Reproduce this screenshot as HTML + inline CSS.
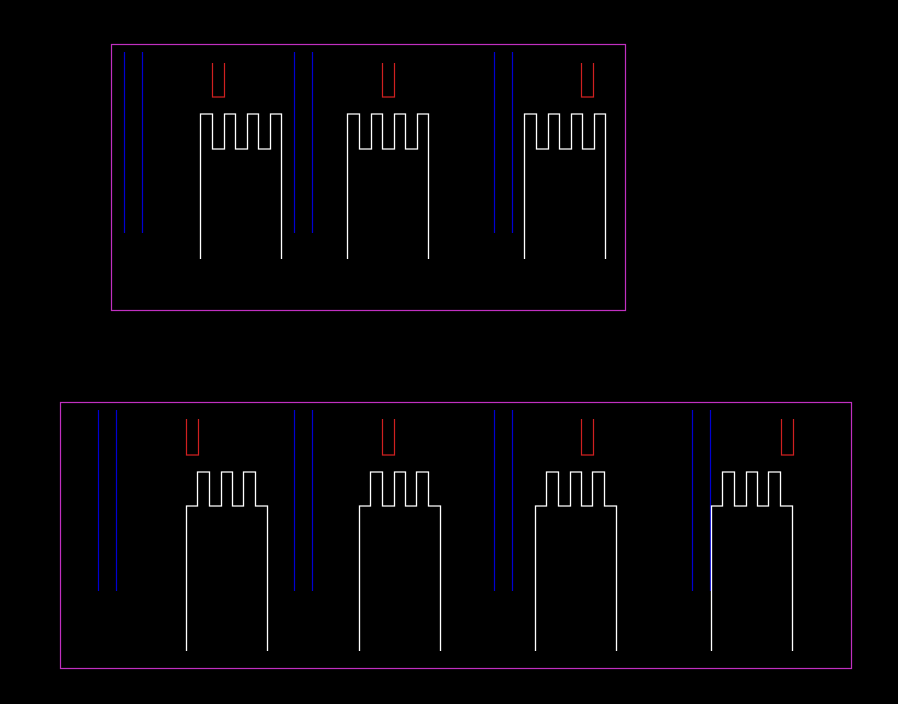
<!DOCTYPE html>
<html><head><meta charset="utf-8"><style>
html,body{margin:0;padding:0;background:#000;width:898px;height:704px;overflow:hidden}
svg{display:block}
</style></head><body>
<svg width="898" height="704" viewBox="0 0 898 704" xmlns="http://www.w3.org/2000/svg">
<defs>
<g id="tblue"><line x1="0" y1="52" x2="0" y2="233" stroke="#0000d0" stroke-width="1.2"/><line x1="18" y1="52" x2="18" y2="233" stroke="#0000d0" stroke-width="1.2"/></g>
<g id="bblue"><line x1="0" y1="410" x2="0" y2="591" stroke="#0000d0" stroke-width="1.2"/><line x1="18" y1="410" x2="18" y2="591" stroke="#0000d0" stroke-width="1.2"/></g>
<path id="tred" d="M0,63 V97 H12 V63" fill="none" stroke="#d02020" stroke-width="1.2"/>
<path id="bred" d="M0,419 V455 H12 V419" fill="none" stroke="#d02020" stroke-width="1.2"/>
<path id="tcomb" d="M0,259 V114 H12 V149 H24 V114 H35 V149 H47 V114 H58 V149 H70 V114 H81 V259" fill="none" stroke="#fff" stroke-width="1.3"/>
<path id="bcomb" d="M0,651 V506 H11 V472 H23 V506 H35 V472 H46 V506 H57 V472 H69 V506 H81 V651" fill="none" stroke="#fff" stroke-width="1.3"/>
</defs>
<rect x="111.5" y="44.5" width="514" height="266" fill="none" stroke="#c030c0" stroke-width="1.2"/>
<rect x="60.5" y="402.5" width="791" height="266" fill="none" stroke="#c030c0" stroke-width="1.2"/>

<use href="#tblue" x="124.5"/><use href="#tblue" x="294.5"/><use href="#tblue" x="494.5"/>
<use href="#tred" x="212.5"/><use href="#tred" x="382.5"/><use href="#tred" x="581.5"/>
<use href="#tcomb" x="200.5"/><use href="#tcomb" x="347.5"/><use href="#tcomb" x="524.5"/>

<use href="#bblue" x="98.5"/><use href="#bblue" x="294.5"/><use href="#bblue" x="494.5"/><use href="#bblue" x="692.5"/>
<use href="#bred" x="186.5"/><use href="#bred" x="382.5"/><use href="#bred" x="581.5"/><use href="#bred" x="781.5"/>
<use href="#bcomb" x="186.5"/><use href="#bcomb" x="359.5"/><use href="#bcomb" x="535.5"/><use href="#bcomb" x="711.5"/>
</svg>
</body></html>
